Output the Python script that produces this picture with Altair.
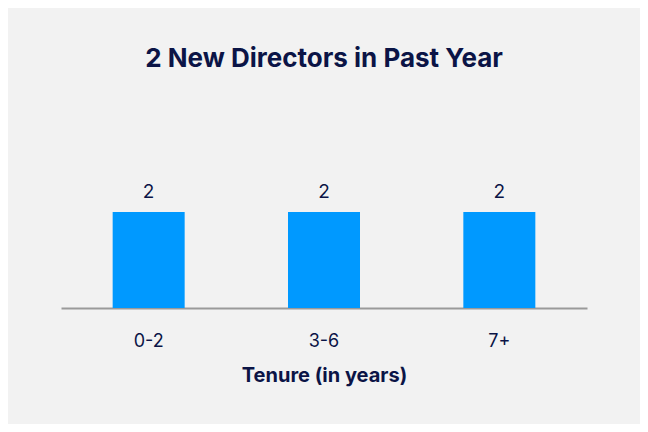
import altair as alt
import pandas as pd

categories = ["0-2", "3-6", "7+"]
values = [2, 2, 2]

df = pd.DataFrame({"tenure": categories, "count": values})

NAVY = "#0b1446"
FONT = "Inter"

base = alt.Chart(df).encode(
    x=alt.X("tenure:N", sort=categories,
            scale=alt.Scale(paddingInner=0, paddingOuter=0),
            axis=alt.Axis(title="Tenure (in years)", labelAngle=0, ticks=False,
                          domainColor="#9a9a9a", domainWidth=2,
                          labelFont=FONT, labelFontSize=18, labelColor=NAVY,
                          labelPadding=24, titleFont=FONT, titleFontSize=20,
                          titleFontWeight="bold", titleColor=NAVY, titlePadding=15)),
    y=alt.Y("count:Q", scale=alt.Scale(domain=[0, 4]), axis=None),
)

bars = base.mark_bar(color="#0099ff", width=72)
labels = base.mark_text(dy=-20, font=FONT, fontSize=19, color=NAVY).encode(text="count:Q")

chart = (bars + labels).properties(
    width=526, height=192,
    title=alt.TitleParams("2 New Directors in Past Year", font=FONT, fontSize=26,
                          fontWeight="bold", color=NAVY, offset=44, anchor="middle"),
    background="#f2f2f2",
    autosize=alt.AutoSizeParams(type="none"),
    padding={"left": 53, "top": 108, "right": 53, "bottom": 116},
).configure_view(stroke=None).configure_axis(grid=False)

chart.save("out.html", embed_options={"renderer": "svg", "actions": False})
